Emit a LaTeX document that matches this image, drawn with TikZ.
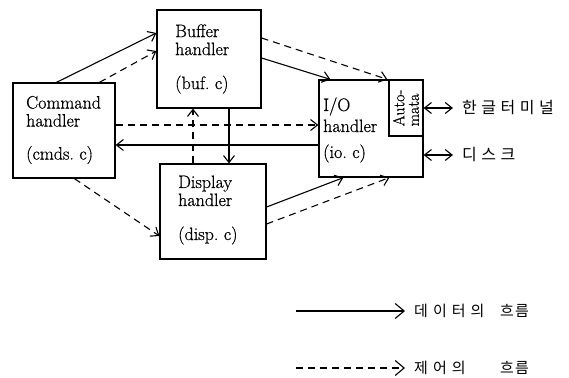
\documentclass[tikz,border=0pt]{standalone}
\usepackage{fontspec}
\setmainfont{Latin Modern Roman}[FakeBold=0.7]
\newfontfamily\kr{Noto Sans CJK KR}
\newcommand\gp{\hspace{4.5pt}}
\newcommand\gq{\hspace{5pt}}
\usetikzlibrary{arrows.meta,calc}

\begin{document}
\begin{tikzpicture}[x=1pt,y=-1pt,
  >={Straight Barb[length=7pt,width=11pt]},
  blk/.style={draw,line width=1.2pt,inner sep=0pt},
  txt/.style={anchor=west,inner sep=0pt,align=left,
              font=\fontsize{18}{18}\selectfont},
  data/.style={->,line width=1.1pt},
  ctrl/.style={->,line width=1.1pt,dash pattern=on 7pt off 5pt},
  bigtip/.style={-{Straight Barb[length=9pt,width=15pt]}},
  lbl/.style={anchor=west,inner sep=0pt}]
\useasboundingbox (0,0) rectangle (569,377);

% the four handler modules
\node[blk,minimum width=102pt,minimum height=95pt] (cmd) at (64,130.5) {};
\node[blk,minimum width=104pt,minimum height=98pt] (buf) at (209,59) {};
\node[blk,minimum width=106pt,minimum height=95pt] (disp) at (213,211.5) {};
\node[blk,minimum width=104pt,minimum height=97pt] (io) at (371,128.5) {};

\node[txt] (cmdtxt) at (26,130) {Command\\handler\\[15pt](cmds.~c)};
\node[txt] (buftxt) at (175,59) {Buffer\\handler\\[16pt](buf.~c)};
\node[txt] (disptxt) at (178,210) {Display\\handler\\[16pt](disp.~c)};
\node[txt] (iotxt) at (323,130) {I/O\\[3pt]handler\\[8pt](io.~c)};

% automata inside the I/O handler
\node[blk,minimum width=34pt,minimum height=56pt] (auto) at (406,108) {};
\node[rotate=90,align=left,inner sep=0pt,font=\fontsize{16}{14.5}\selectfont]
  (autotxt) at (auto.center) {Auto-\\mata};

% data flow
\draw[data] ([xshift=44pt]cmd.north west) -- ([yshift=26pt]buf.west);
\draw[data] ([yshift=1pt]buf.east) -- ([xshift=12pt]io.north west);
\draw[data] ([yshift=-14.5pt]cmd.east -| io.west) -- ([yshift=-14.5pt]cmd.east);
\draw[data] ([xshift=20pt]buf.south) -- ([xshift=20pt]buf.south |- disp.north);
\draw[data] ([yshift=4.5pt]disp.east) -- ([xshift=25pt]io.south west);

% control flow
\draw[ctrl] ([xshift=87pt]cmd.north west) -- ([yshift=8pt]buf.west);
\draw[ctrl] ([yshift=21pt]buf.east) -- ([xshift=69pt]io.north west);
\draw[ctrl] ([yshift=5.5pt]cmd.east) -- ([yshift=5.5pt]cmd.east -| io.west);
\draw[ctrl] ([xshift=-16pt]buf.south |- disp.north) -- ([xshift=-16pt]buf.south);
\draw[ctrl] ([xshift=62pt]cmd.south west) -- ([yshift=-24.5pt]disp.west);
\draw[ctrl] ([yshift=-12.5pt]disp.east) -- ([xshift=71pt]io.south west);

% external devices
\coordinate (term) at (453,108);
\coordinate (disk) at (453,155);
\draw[<->,line width=1.1pt] (auto.east) -- (term);
\draw[<->,line width=1.1pt] ([yshift=-26.5pt]io.east) -- (disk);
\node[lbl,font=\kr\fontsize{16}{16}\selectfont] (termtxt) at (462,108)
  {한\gp 글\gp 터\gp 미\gp 널};
\node[lbl,font=\kr\fontsize{16}{16}\selectfont] (disktxt) at (462,155)
  {디\gp 스\gp 크};

% legend
\coordinate (la) at (296,311);
\coordinate (lb) at (405,311);
\coordinate (lc) at (296,368);
\coordinate (ld) at (405,368);
\draw[data,bigtip] (la) -- (lb);
\draw[ctrl,bigtip] (lc) -- (ld);
\node[lbl,font=\kr\fontsize{15}{15}\selectfont] (datatxt) at (414,311)
  {\makebox[86pt][l]{데\gq 이\gq 터\gq 의}흐\hspace{1pt}름};
\node[lbl,font=\kr\fontsize{15}{15}\selectfont] (ctrltxt) at (414,368)
  {\makebox[86pt][l]{제\gq 어\gq 의}흐\hspace{1pt}름};
\end{tikzpicture}
\end{document}
